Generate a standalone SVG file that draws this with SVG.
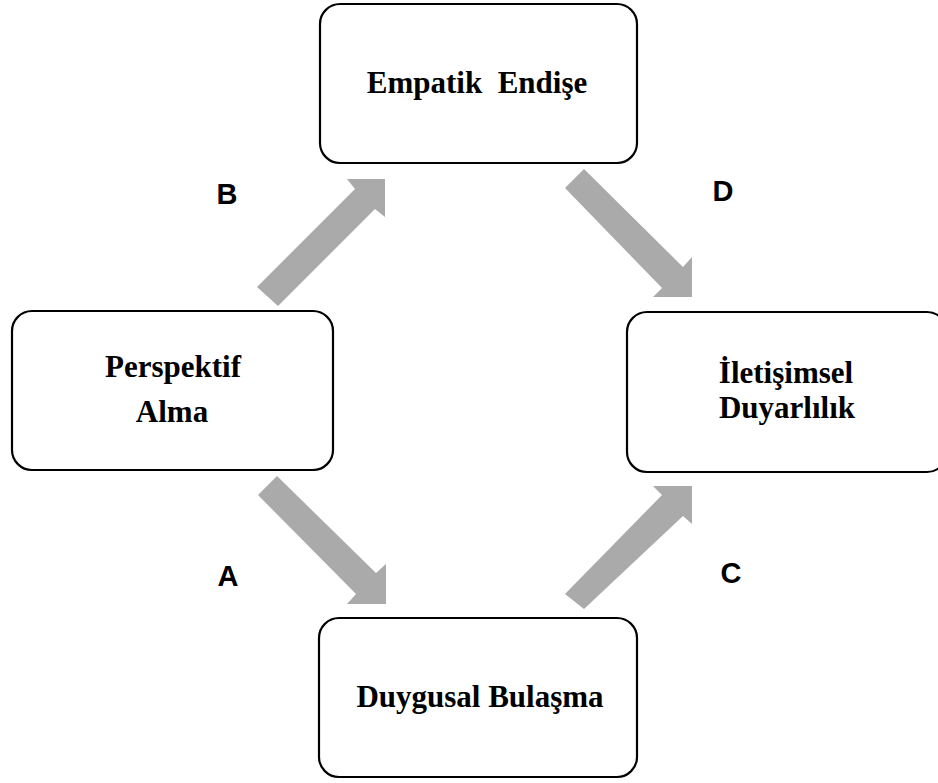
<svg xmlns="http://www.w3.org/2000/svg" width="938" height="783" viewBox="0 0 938 783">
<style>
.box{fill:#fff;stroke:#000;stroke-width:2.2}
.t{font-family:"Liberation Serif","Times New Roman",serif;font-weight:bold;font-size:31px;fill:#000;text-anchor:middle;white-space:pre}
.lbl{font-family:"Liberation Sans",Arial,sans-serif;font-weight:bold;font-size:29px;fill:#000;text-anchor:middle}
.arr{fill:#aaaaaa}
</style>
<rect width="938" height="783" fill="#fff"/>
<g id="connectors">
<polygon id="arrB" class="arr" points="257,287 355,189 347,179 385,179 385,217 375,209 278,306"/>
<polygon id="arrD" class="arr" points="584,169 683,267 692,257 692,297 653,297 662,288 565,188"/>
<polygon id="arrA" class="arr" points="277,476 376,573 386,564 386,604 347,604 356,594 258,495"/>
<polygon id="arrC" class="arr" points="565,594 662,495 653,486 692,486 692,524 683,516 584,609"/>
<text class="lbl" x="227" y="204">B</text>
<text class="lbl" x="723" y="201">D</text>
<text class="lbl" x="228" y="586">A</text>
<text class="lbl" x="731" y="583">C</text>
</g>
<g id="empatik">
<rect class="box" x="320" y="4" width="317" height="159" rx="20"/>
<text class="t" x="477" y="93" xml:space="preserve">Empatik  Endişe</text>
</g>
<g id="perspektif">
<rect class="box" x="12" y="311" width="321" height="159" rx="20"/>
<text class="t" x="173" y="377">Perspektif</text>
<text class="t" x="172" y="422">Alma</text>
</g>
<g id="iletisimsel">
<rect class="box" x="627" y="312" width="320" height="160" rx="20"/>
<text class="t" x="786" y="383">İletişimsel</text>
<text class="t" x="787" y="418">Duyarlılık</text>
</g>
<g id="duygusal">
<rect class="box" x="319" y="618" width="318" height="159" rx="20"/>
<text class="t" x="480" y="707">Duygusal Bulaşma</text>
</g>
</svg>
